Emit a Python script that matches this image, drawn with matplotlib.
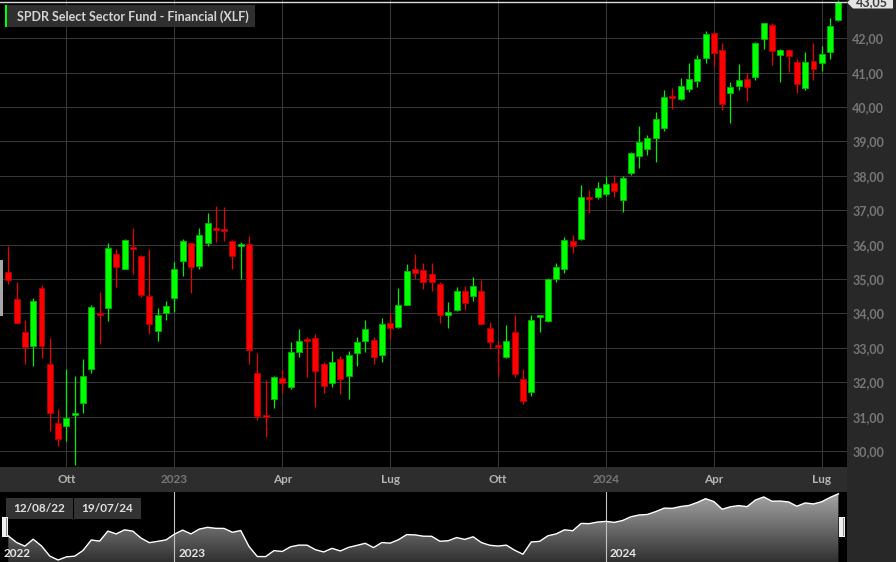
import numpy as np
import pandas as pd
import matplotlib
matplotlib.use("Agg")
import matplotlib.pyplot as plt
from matplotlib.patches import Rectangle, Polygon
from matplotlib.colors import LinearSegmentedColormap
import matplotlib.transforms as mtransforms

plt.rcParams["font.family"] = ["Lato", "DejaVu Sans"]

# Weekly OHLC for XLF, Aug 2022 - Jul 2024
opens = [35.21, 34.42, 33.47, 33.06, 34.74, 32.53, 30.82, 30.72, 31.05, 31.40,
         32.38, 34.00, 34.17, 35.73, 35.30, 35.93, 35.68, 34.50, 33.49, 34.02,
         34.46, 35.53, 36.04, 35.39, 36.06, 36.47, 36.45, 36.11, 35.97, 36.02,
         32.28, 31.03, 31.52, 32.12, 31.87, 32.88, 33.25, 33.28, 32.53, 31.99,
         32.66, 32.18, 32.84, 33.20, 33.23, 32.79, 33.71, 33.60, 34.24, 35.28,
         35.26, 35.14, 34.85, 33.95, 34.10, 34.65, 34.51, 34.65, 33.59, 33.07,
         32.74, 33.47, 32.09, 31.71, 33.90, 33.79, 34.99, 35.29, 36.11, 36.15,
         37.37, 37.37, 37.46, 37.78, 37.30, 38.09, 38.58, 38.78, 39.09, 39.38,
         40.30, 40.24, 40.52, 40.76, 41.41, 42.15, 41.66, 40.42, 40.61, 40.82,
         40.86, 41.97, 42.39, 41.51, 41.66, 41.30, 40.55, 41.34, 41.27, 41.61,
         42.53]
highs = [35.97, 34.90, 33.81, 34.44, 34.82, 33.28, 31.21, 32.37, 32.18, 32.67,
         34.25, 34.62, 36.04, 35.86, 36.16, 36.48, 35.71, 35.86, 34.15, 34.36,
         35.49, 36.16, 36.06, 36.48, 36.91, 37.11, 37.09, 36.13, 36.07, 36.25,
         32.84, 32.05, 32.19, 32.35, 33.16, 33.55, 33.32, 33.40, 32.60, 32.92,
         32.77, 32.92, 33.30, 33.81, 33.30, 33.86, 34.00, 34.73, 35.43, 35.72,
         35.46, 35.46, 34.92, 34.32, 34.78, 34.80, 35.05, 34.97, 33.76, 33.21,
         33.66, 33.95, 32.37, 33.95, 33.95, 35.02, 35.46, 36.21, 36.28, 37.73,
         37.59, 37.83, 37.98, 38.02, 38.00, 38.70, 39.45, 39.19, 39.84, 40.50,
         40.55, 40.84, 41.27, 41.51, 42.22, 42.17, 41.87, 40.74, 41.24, 41.00,
         41.90, 42.45, 42.45, 41.68, 41.70, 41.39, 41.61, 41.85, 41.76, 42.58,
         43.10]
lows = [34.86, 33.68, 32.52, 32.48, 32.71, 30.59, 30.14, 30.30, 29.59, 31.11,
        32.28, 33.10, 33.79, 34.76, 35.28, 35.14, 34.49, 33.39, 33.20, 33.81,
        34.05, 35.09, 34.58, 35.28, 35.97, 36.08, 36.09, 35.28, 35.00, 32.52,
        30.90, 30.40, 31.24, 31.68, 31.81, 32.72, 32.14, 31.27, 31.68, 31.85,
        31.65, 31.50, 32.48, 32.89, 32.52, 32.58, 33.25, 33.59, 34.23, 35.00,
        34.71, 34.66, 33.73, 33.59, 34.07, 34.10, 34.36, 33.69, 32.97, 32.19,
        32.71, 32.16, 31.37, 31.60, 33.47, 33.74, 34.90, 35.17, 35.75, 36.13,
        36.91, 37.32, 37.41, 37.39, 36.96, 38.02, 38.24, 38.61, 38.41, 39.31,
        39.93, 40.21, 40.45, 40.57, 41.27, 41.18, 39.91, 39.53, 40.48, 40.18,
        40.79, 41.68, 41.22, 40.74, 41.03, 40.42, 40.50, 40.77, 41.05, 41.39,
        42.50]
closes = [34.97, 33.71, 33.01, 34.35, 33.04, 31.10, 30.35, 30.96, 31.09, 32.19,
          34.20, 33.97, 35.90, 35.36, 36.14, 35.89, 34.54, 33.68, 33.94, 34.21,
          35.30, 36.09, 35.36, 36.28, 36.62, 36.43, 36.41, 35.67, 36.01, 32.94,
          31.02, 31.00, 32.15, 31.99, 32.89, 33.21, 33.20, 32.33, 31.90, 32.59,
          32.09, 32.78, 33.16, 33.56, 32.74, 33.70, 33.59, 34.24, 35.23, 35.17,
          34.92, 34.90, 33.95, 34.05, 34.66, 34.31, 34.81, 33.69, 33.18, 33.03,
          33.20, 32.23, 31.46, 33.81, 33.93, 35.00, 35.36, 36.14, 35.97, 37.37,
          37.33, 37.64, 37.76, 37.57, 37.93, 38.65, 38.99, 39.09, 39.64, 40.30,
          40.27, 40.61, 40.82, 41.39, 42.12, 41.56, 40.09, 40.57, 40.79, 40.59,
          41.85, 42.45, 41.63, 41.66, 41.49, 40.67, 41.30, 41.11, 41.53, 42.36,
          43.05]

week_dates = pd.date_range("2022-08-12", periods=len(closes), freq="W-FRI")
quarter_starts = pd.to_datetime(["2022-10-01", "2023-01-01", "2023-04-01", "2023-07-01",
                                 "2023-10-01", "2024-01-01", "2024-04-01", "2024-07-01"])
quarter_labels = ["Ott", "2023", "Apr", "Lug", "Ott", "2024", "Apr", "Lug"]
year_labels = ["2022", "2023", "2024"]
range_labels = ["12/08/22", "19/07/24"]
title = "SPDR Select Sector Fund - Financial (XLF)"

W, H = 896, 562
fig = plt.figure(figsize=(W / 100, H / 100), dpi=100, facecolor="#282828")


def fbox(x0, y0, x1, y1):
    # pixel box (top-left origin) -> figure fraction rect
    return (x0 / W, 1 - y1 / H, (x1 - x0) / W, (y1 - y0) / H)


def frect(x0, y0, x1, y1, color, z=5):
    l, b, w, h = fbox(x0, y0, x1, y1)
    fig.add_artist(Rectangle((l, b), w, h, transform=fig.transFigure,
                             facecolor=color, edgecolor="none", zorder=z))


def ftext(x, y, s, **kw):
    fig.text(x / W, 1 - y / H, s, zorder=6, **kw)


o = np.array(opens)
hi = np.array(highs)
lo = np.array(lows)
c = np.array(closes)
idx = np.arange(len(c))
up = c >= o

# --- main candlestick panel ---
ax = fig.add_axes(fbox(0, 0, 846.7, 467))
ax.set_facecolor("black")
for s in ax.spines.values():
    s.set_visible(False)
ax.set_xlim(-1, 101)
ax.set_ylim(29.535, 43.11)

yt = np.arange(30, 43)
ax.set_yticks(yt)
ax.set_yticklabels([f"{v:.2f}".replace(".", ",") for v in yt])
ax.yaxis.tick_right()
ax.tick_params(axis="y", length=0, pad=4, labelsize=9, labelcolor="#767676")

tick_idx = [int(np.searchsorted(week_dates, q)) - 1 for q in quarter_starts]
ax.set_xticks(tick_idx)
ax.set_xticklabels(quarter_labels)
ax.tick_params(axis="x", length=0, pad=5, labelsize=8.5)
for lbl in ax.get_xticklabels():
    lbl.set_fontweight("bold")
    lbl.set_color("#777777" if lbl.get_text().isdigit() else "#b4b4b4")
for lbl in ax.get_yticklabels():
    lbl.set_fontweight("bold")

ax.grid(color="#363636", lw=0.8)
ax.set_axisbelow(True)

wick_col = np.where(up, "#00ee00", "#ee0000")
fill_col = np.where(up, "#00ff00", "#ff0000")
edge_col = np.where(up, "#00b400", "#b40000")
body = np.maximum(np.abs(c - o), 0.05)
bottom = np.where(np.abs(c - o) < 0.05, (o + c) / 2 - 0.025, np.minimum(o, c))
ax.vlines(idx, lo, hi, colors=wick_col, lw=0.9, zorder=2)
ax.bar(idx, body, bottom=bottom, width=0.72, color=fill_col,
       edgecolor=edge_col, linewidth=0.6, zorder=3)
ax.axhline(c[-1], color="#dcdcdc", lw=1, zorder=4)

# --- axis label band ---
frect(0, 467, 846.7, 492, "#2d2d2d", z=0)

# --- navigator ---
nav = fig.add_axes(fbox(0, 492.3, 846.7, 562))
nav.set_facecolor("black")
for s in nav.spines.values():
    s.set_visible(False)
nav.set_xticks([])
nav.set_yticks([])
nav.set_xlim(-1, 101)
ny0, ny1 = c.min() - 0.38, c.max() + 0.29
nav.set_ylim(ny0, ny1)

grad = np.linspace(1, 0, 256).reshape(-1, 1)
cmap = LinearSegmentedColormap.from_list("navgrad", ["#303030", "#a8a8a8"])
img = nav.imshow(grad, extent=[-1, 101, ny0, ny1], aspect="auto", cmap=cmap,
                 vmin=0, vmax=1, origin="upper", zorder=1)
area = nav.fill_between(idx, c, ny0, facecolor="none", edgecolor="none")
img.set_clip_path(area.get_paths()[0], transform=nav.transData)
nav.plot(idx, c, color="white", lw=1, zorder=3)

year_idx = [tick_idx[i] for i, q in enumerate(quarter_starts) if q.month == 1]
for x in year_idx:
    nav.axvline(x, color="#c4c4c4", lw=0.8, zorder=2)
trans = mtransforms.blended_transform_factory(nav.transData, nav.transAxes)
for x, lab in zip([-1] + year_idx, year_labels):
    nav.annotate(lab, xy=(x, 0), xycoords=trans, xytext=(4, 5),
                 textcoords="offset pixels", ha="left", va="baseline",
                 fontsize=8.5, fontweight="bold", color="#e6e6e6", zorder=4)

# range boxes
frect(6, 498, 72.7, 519, "#333333")
frect(74, 498, 141, 519, "#333333")
ftext(39.3, 508.5, range_labels[0], ha="center", va="center", fontsize=8.5,
      fontweight="bold", color="#e0e0e0")
ftext(107.5, 508.5, range_labels[1], ha="center", va="center", fontsize=8.5,
      fontweight="bold", color="#e0e0e0")

# navigator handles
for hx in (1.7, 838.7):
    frect(hx, 516.7, hx + 6.6, 536.7, "#f0f0f0")
    for k in (2.2, 4.4):
        frect(hx + k - 0.4, 517.5, hx + k + 0.4, 536, "#8a8a8a", z=7)

# left edge marker in main chart
frect(0, 260, 2.7, 316, "#a8a8a8")

# --- title box ---
frect(5, 5, 255, 27, "#2f2f2f")
frect(5, 5, 7.3, 27, "#00ff00", z=7)
ftext(17, 16.5, title, ha="left", va="center", fontsize=9, fontweight="bold",
      color="#d4d4d4")

# --- last price tag ---
pts = [(847, 2.5), (853, -3), (893, -3), (893, 8.5), (853, 8.5)]
fig.add_artist(Polygon([(x / W, 1 - y / H) for x, y in pts], closed=True,
                       transform=fig.transFigure, facecolor="#e4e4e4",
                       edgecolor="none", zorder=5))
ftext(872, 2.5, f"{c[-1]:.2f}".replace(".", ","), ha="center", va="center",
      fontsize=9, fontweight="bold", color="#3c3c3c")

fig.savefig("out.png", dpi=100, facecolor=fig.get_facecolor())
